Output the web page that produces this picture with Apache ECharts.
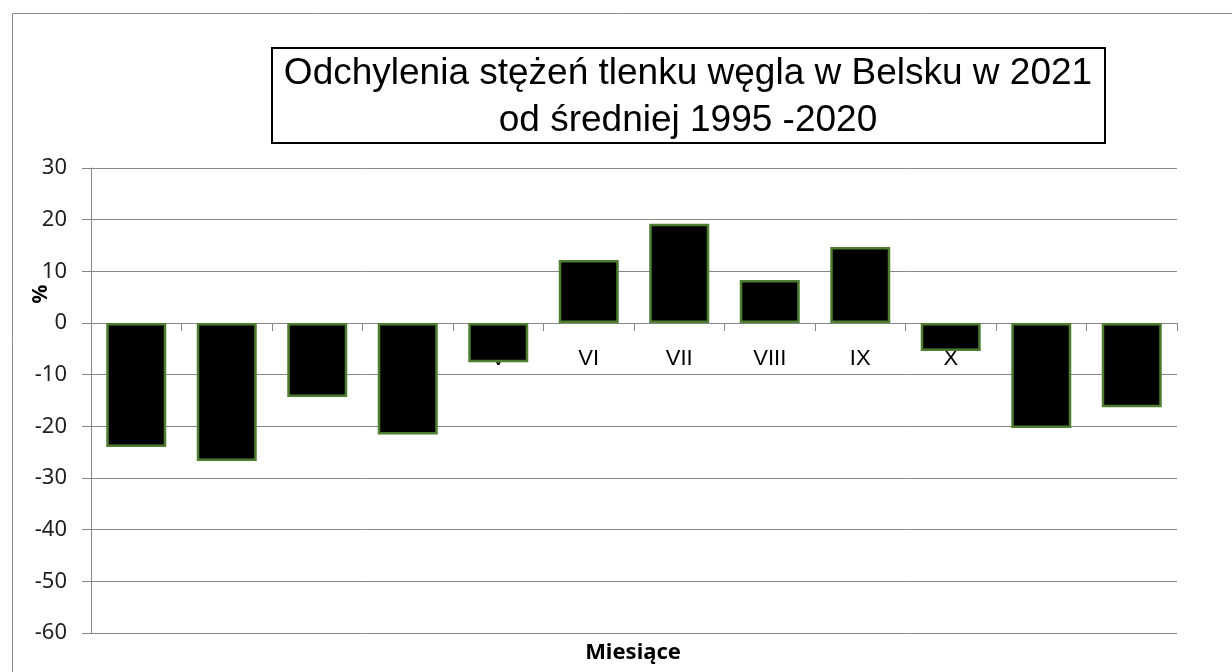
<!DOCTYPE html>
<html>
<head>
<meta charset="utf-8">
<script src="https://cdn.jsdelivr.net/npm/echarts@6/dist/echarts.min.js"></script>
<style>
html,body{margin:0;padding:0;background:#fff;}
#chart{width:1232px;height:672px;}
</style>
</head>
<body>
<div id="chart"></div>
<script>
const titleText = 'Odchylenia stężeń tlenku węgla w Belsku w 2021\nod średniej 1995 -2020';
const months = ['I','II','III','IV','V','VI','VII','VIII','IX','X','XI','XII'];
const deviations = [-24.0, -26.7, -14.3, -21.6, -7.6, 12.2, 19.2, 8.3, 14.7, -5.4, -20.3, -16.3];
const yTicks = {min: -60, max: 30, interval: 10};
const yName = '%';
const xName = 'Miesiące';

const gridTop = 168, gridBottom = 39, H = 672;
const plotH = H - gridTop - gridBottom;
// pixel distance from bottom edge of plot to the zero line, derived from the axis range
const zeroOffset = plotH * (0 - yTicks.min) / (yTicks.max - yTicks.min);

const chart = echarts.init(document.getElementById('chart'), null, {renderer: 'canvas'});
chart.setOption({
  animation: false,
  backgroundColor: '#ffffff',
  grid: {left: 91, right: 55, top: gridTop, bottom: gridBottom, containLabel: false},
  xAxis: {
    type: 'category',
    data: months,
    position: 'bottom',
    offset: -zeroOffset,
    axisLine: {onZero: false, lineStyle: {color: '#868686', width: 1}},
    axisTick: {show: true, length: 8, lineStyle: {color: '#868686'}},
    axisLabel: {color: '#000', fontFamily: 'Liberation Sans', fontSize: 22, margin: 25}
  },
  yAxis: {
    type: 'value',
    min: yTicks.min, max: yTicks.max, interval: yTicks.interval,
    axisLine: {show: true, lineStyle: {color: '#868686', width: 1}},
    axisTick: {show: true, length: 9, lineStyle: {color: '#868686'}},
    axisLabel: {color: '#1f1f1f', fontFamily: 'Noto Sans', fontSize: 22, margin: 24},
    splitLine: {show: true, lineStyle: {color: '#868686', width: 1}}
  },
  series: [{
    type: 'bar',
    data: deviations,
    barWidth: 60,
    z: 5,
    itemStyle: {color: '#000000', borderColor: '#4f7d32', borderWidth: 2.5}
  }],
  graphic: [
    {type: 'rect', left: 10, top: 11, shape: {width: 1240, height: 700}, style: {fill: 'none', stroke: '#8c8c8c', lineWidth: 1}, silent: true, z: -1},
    {type: 'rect', shape: {x: 272, y: 48, width: 833, height: 95}, style: {fill: '#fff', stroke: '#000', lineWidth: 2}, z: 10},
    {type: 'text', x: 688, y: 97, z: 11, style: {text: titleText, fontFamily: 'Liberation Sans', fontSize: 37, lineHeight: 47, fill: '#000', align: 'center', verticalAlign: 'middle'}},
    {type: 'text', x: 41, y: 294, rotation: Math.PI / 2, z: 11, style: {text: yName, fontFamily: 'Noto Sans', fontWeight: 'bold', fontSize: 21, fill: '#000', align: 'center', verticalAlign: 'middle'}},
    {type: 'text', x: 633, y: 653, z: 11, style: {text: xName, fontFamily: 'Noto Sans', fontWeight: 'bold', fontSize: 22, fill: '#000', align: 'center', verticalAlign: 'middle'}}
  ]
});
</script>
</body>
</html>
